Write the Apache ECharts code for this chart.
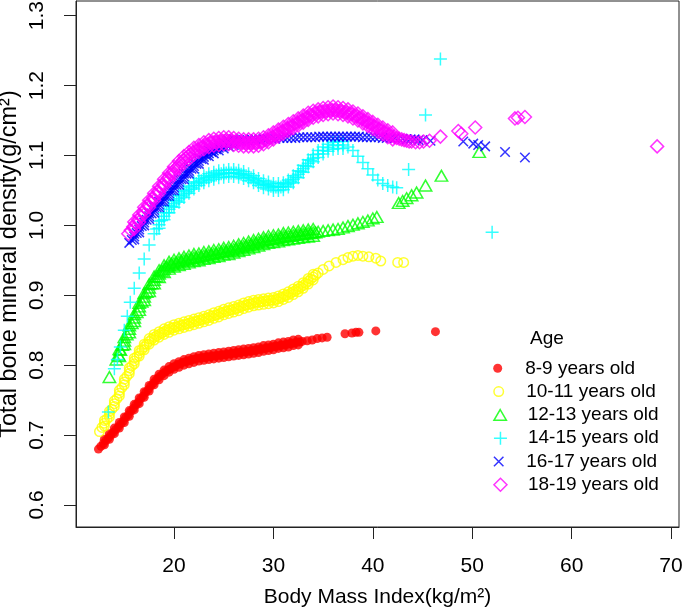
<!DOCTYPE html>
<html><head><meta charset="utf-8">
<script src="https://cdn.jsdelivr.net/npm/echarts@6/dist/echarts.min.js"></script>
<style>html,body{margin:0;padding:0;background:#fff}#c{width:682px;height:608px}</style>
</head><body><div id="c"></div>
<script>
const seriesNames = ['8-9 years old','10-11 years old','12-13 years old','14-15 years old','16-17 years old','18-19 years old'];
const xTicks = [20,30,40,50,60,70];
const yTicks = [0.6,0.7,0.8,0.9,1.0,1.1,1.2,1.3];

// [BMI, BMD] pairs: centre of each band plus its upper and lower edges
const age8_9 = [[12.4,.680],[12.65,.684],[12.9,.688],[13.15,.692],[13.4,.696],[13.65,.700],[13.9,.704],[14.15,.708],[14.4,.712],[14.65,.716],[14.9,.720],[15.15,.725],[15.4,.729],[15.65,.734],[15.9,.738],[16.15,.743],[16.4,.747],[16.65,.752],[16.9,.756],[17.15,.761],[17.4,.765],[17.65,.770],[17.9,.774],[18.15,.778],[18.4,.782],[18.65,.785],[18.9,.788],[19.15,.791],[19.4,.793],[19.65,.795],[19.9,.797],[20.15,.799],[20.4,.801],[20.65,.802],[20.9,.804],[21.15,.805],[21.4,.806],[21.65,.807],[21.9,.808],[22.15,.809],[22.4,.810],[22.65,.810],[22.9,.811],[23.15,.811],[23.4,.812],[23.65,.812],[23.9,.813],[24.15,.813],[24.4,.814],[24.65,.814],[24.9,.815],[25.15,.815],[25.4,.816],[25.65,.816],[25.9,.817],[26.15,.817],[26.4,.818],[26.65,.818],[26.9,.819],[27.15,.819],[27.4,.820],[27.65,.820],[27.9,.821],[28.15,.821],[28.4,.822],[28.65,.823],[28.9,.823],[29.15,.824],[29.4,.825],[29.65,.825],[29.9,.826],[30.15,.827],[30.4,.827],[30.65,.828],[30.9,.829],[31.15,.829],[31.4,.830],[31.65,.831],[31.9,.831],[32.15,.832],[32.4,.833],[32.65,.833],[32.9,.834],[33.4,.835],[33.9,.836],[34.4,.838],[34.9,.839],[35.4,.840],[37.2,.845],[37.9,.846],[38.3,.847],[38.6,.847],[40.3,.849],[46.3,.848]];
const age8_9_hi = [[13.0,.694],[13.5,.702],[14.0,.710],[14.5,.718],[15.0,.726],[15.5,.735],[16.0,.744],[16.5,.753],[17.0,.762],[17.5,.771],[18.0,.780],[18.5,.787],[19.0,.793],[19.5,.798],[20.0,.802],[20.5,.805],[21.0,.808],[21.5,.810],[22.0,.812],[22.5,.814],[23.0,.815],[23.5,.816],[24.0,.817],[24.5,.818],[25.0,.819],[25.5,.820],[26.0,.821],[26.5,.822],[27.0,.823],[27.5,.824],[28.0,.825],[28.5,.826],[29.0,.828],[29.5,.829],[30.0,.830],[30.5,.832],[31.0,.833],[31.5,.834],[32.0,.836],[32.5,.837]];
const age8_9_lo = [[13.0,.686],[13.5,.694],[14.0,.702],[14.5,.710],[15.0,.718],[15.5,.727],[16.0,.736],[16.5,.745],[17.0,.754],[17.5,.763],[18.0,.772],[18.5,.779],[19.0,.785],[19.5,.790],[20.0,.794],[20.5,.797],[21.0,.800],[21.5,.802],[22.0,.804],[22.5,.806],[23.0,.807],[23.5,.808],[24.0,.809],[24.5,.810],[25.0,.811],[25.5,.812],[26.0,.813],[26.5,.814],[27.0,.815],[27.5,.816],[28.0,.817],[28.5,.818],[29.0,.820],[29.5,.821],[30.0,.822],[30.5,.824],[31.0,.825],[31.5,.826],[32.0,.828],[32.5,.829]];

const age10_11 = [[12.5,.705],[12.75,.711],[13.0,.717],[13.25,.723],[13.5,.730],[13.75,.737],[14.0,.745],[14.25,.752],[14.5,.760],[14.75,.768],[15.0,.776],[15.25,.784],[15.5,.792],[15.75,.799],[16.0,.806],[16.25,.812],[16.5,.817],[16.75,.822],[17.0,.826],[17.25,.830],[17.5,.834],[17.75,.837],[18.0,.840],[18.25,.842],[18.5,.844],[18.75,.846],[19.0,.848],[19.25,.850],[19.5,.851],[19.75,.853],[20.0,.854],[20.25,.855],[20.5,.856],[20.75,.857],[21.0,.858],[21.25,.859],[21.5,.860],[21.75,.861],[22.0,.862],[22.25,.863],[22.5,.864],[22.75,.865],[23.0,.866],[23.25,.867],[23.5,.868],[23.75,.870],[24.0,.871],[24.25,.872],[24.5,.873],[24.75,.875],[25.0,.876],[25.25,.877],[25.5,.878],[25.75,.879],[26.0,.880],[26.25,.881],[26.5,.882],[26.75,.884],[27.0,.885],[27.25,.886],[27.5,.887],[27.75,.888],[28.0,.889],[28.25,.890],[28.5,.890],[28.75,.891],[29.0,.891],[29.25,.892],[29.5,.892],[29.75,.893],[30.0,.893],[30.25,.894],[30.5,.895],[30.75,.897],[31.0,.898],[31.25,.900],[31.5,.901],[31.75,.903],[32.0,.905],[32.25,.907],[32.5,.909],[32.75,.912],[33.0,.914],[33.25,.917],[33.5,.920],[33.75,.923],[34.0,.926],[34.25,.929],[34.5,.932],[35.0,.937],[35.6,.942],[36.3,.947],[37.0,.951],[37.5,.954],[38.0,.956],[38.5,.957],[39.0,.956],[39.6,.955],[40.3,.953],[40.8,.949],[42.5,.947],[43.1,.947]];
const age10_11_hi = [[13.0,.721],[13.5,.734],[14.0,.749],[14.5,.764],[15.0,.780],[15.5,.796],[16.0,.810],[16.5,.821],[17.0,.830],[17.5,.838],[18.0,.844],[18.5,.848],[19.0,.852],[19.5,.855],[20.0,.858],[20.5,.860],[21.0,.862],[21.5,.864],[22.0,.866],[22.5,.868],[23.0,.870],[23.5,.872],[24.0,.875],[24.5,.877],[25.0,.880],[25.5,.882],[26.0,.884],[26.5,.886],[27.0,.889],[27.5,.891],[28.0,.893],[28.5,.894],[29.0,.895],[29.5,.896],[30.0,.897],[30.5,.899],[31.0,.902],[31.5,.905],[32.0,.909],[32.5,.913],[33.0,.918],[33.5,.924],[34.0,.930]];
const age10_11_lo = [[13.0,.713],[13.5,.726],[14.0,.741],[14.5,.756],[15.0,.772],[15.5,.788],[16.0,.802],[16.5,.813],[17.0,.822],[17.5,.830],[18.0,.836],[18.5,.840],[19.0,.844],[19.5,.847],[20.0,.850],[20.5,.852],[21.0,.854],[21.5,.856],[22.0,.858],[22.5,.860],[23.0,.862],[23.5,.864],[24.0,.867],[24.5,.869],[25.0,.872],[25.5,.874],[26.0,.876],[26.5,.878],[27.0,.881],[27.5,.883],[28.0,.885],[28.5,.886],[29.0,.887],[29.5,.888],[30.0,.889],[30.5,.891],[31.0,.894],[31.5,.897],[32.0,.901],[32.5,.905],[33.0,.910],[33.5,.916],[34.0,.922]];

const age12_13 = [[13.5,.783],[14.2,.808],[14.4,.815],[14.6,.822],[14.8,.829],[15.0,.835],[15.25,.844],[15.5,.852],[15.75,.860],[16.0,.868],[16.25,.876],[16.5,.884],[16.75,.891],[17.0,.898],[17.25,.905],[17.5,.911],[17.75,.917],[18.0,.922],[18.25,.927],[18.5,.931],[18.75,.935],[19.0,.938],[19.25,.941],[19.5,.943],[19.75,.945],[20.0,.946],[20.25,.947],[20.5,.948],[20.75,.949],[21.0,.950],[21.25,.951],[21.5,.952],[21.75,.953],[22.0,.954],[22.25,.954],[22.5,.955],[22.75,.956],[23.0,.957],[23.25,.957],[23.5,.958],[23.75,.959],[24.0,.960],[24.25,.960],[24.5,.961],[24.75,.962],[25.0,.963],[25.25,.963],[25.5,.964],[25.75,.965],[26.0,.966],[26.25,.967],[26.5,.968],[26.75,.969],[27.0,.970],[27.25,.971],[27.5,.972],[27.75,.973],[28.0,.974],[28.25,.975],[28.5,.976],[28.75,.977],[29.0,.978],[29.25,.979],[29.5,.980],[29.75,.980],[30.0,.981],[30.25,.981],[30.5,.982],[30.75,.983],[31.0,.984],[31.25,.984],[31.5,.985],[31.75,.985],[32.0,.986],[32.25,.986],[32.5,.987],[32.75,.987],[33.0,.988],[33.25,.988],[33.5,.989],[33.75,.989],[34.0,.990],[34.25,.990],[34.5,.991],[35.0,.992],[35.5,.993],[36.0,.994],[36.5,.995],[37.0,.997],[37.5,.999],[38.0,1.001],[38.5,1.003],[39.0,1.005],[39.5,1.007],[40.0,1.010],[40.4,1.012],[42.6,1.032],[43.0,1.035],[43.4,1.039],[43.9,1.043],[44.4,1.047],[45.3,1.057],[46.9,1.071],[50.7,1.105]];
const age12_13_hi = [[14.5,.823],[15.0,.840],[15.5,.857],[16.0,.873],[16.5,.889],[17.0,.903],[17.5,.916],[18.0,.927],[18.5,.936],[19.0,.943],[19.5,.948],[20.0,.951],[20.5,.953],[21.0,.955],[21.5,.957],[22.0,.959],[22.5,.960],[23.0,.962],[23.5,.963],[24.0,.965],[24.5,.966],[25.0,.968],[25.5,.969],[26.0,.971],[26.5,.973],[27.0,.975],[27.5,.977],[28.0,.979],[28.5,.981],[29.0,.983],[29.5,.985],[30.0,.986],[30.5,.987],[31.0,.989],[31.5,.990],[32.0,.991],[32.5,.992],[33.0,.993],[33.5,.994],[34.0,.995]];
const age12_13_lo = [[14.5,.813],[15.0,.830],[15.5,.847],[16.0,.863],[16.5,.879],[17.0,.893],[17.5,.906],[18.0,.917],[18.5,.926],[19.0,.933],[19.5,.938],[20.0,.941],[20.5,.943],[21.0,.945],[21.5,.947],[22.0,.949],[22.5,.950],[23.0,.952],[23.5,.953],[24.0,.955],[24.5,.956],[25.0,.958],[25.5,.959],[26.0,.961],[26.5,.963],[27.0,.965],[27.5,.967],[28.0,.969],[28.5,.971],[29.0,.973],[29.5,.975],[30.0,.976],[30.5,.977],[31.0,.979],[31.5,.980],[32.0,.981],[32.5,.982],[33.0,.983],[33.5,.984],[34.0,.985]];

const age14_15 = [[13.4,.733],[14.0,.795],[14.3,.808],[14.6,.826],[15.0,.850],[15.3,.870],[15.6,.890],[16.0,.910],[16.5,.932],[17.0,.952],[17.5,.972],[18.0,.988],[18.25,.995],[18.5,1.001],[18.75,1.007],[19.0,1.013],[19.25,1.018],[19.5,1.023],[19.75,1.027],[20.0,1.031],[20.25,1.035],[20.5,1.038],[20.75,1.042],[21.0,1.045],[21.25,1.048],[21.5,1.051],[21.75,1.054],[22.0,1.057],[22.25,1.060],[22.5,1.062],[22.75,1.064],[23.0,1.066],[23.25,1.068],[23.5,1.069],[23.75,1.070],[24.0,1.071],[24.25,1.072],[24.5,1.073],[24.75,1.074],[25.0,1.074],[25.25,1.075],[25.5,1.075],[25.75,1.075],[26.0,1.075],[26.25,1.075],[26.5,1.074],[26.75,1.073],[27.0,1.072],[27.25,1.071],[27.5,1.069],[27.75,1.068],[28.0,1.066],[28.25,1.064],[28.5,1.062],[28.75,1.060],[29.0,1.059],[29.25,1.058],[29.5,1.057],[29.75,1.056],[30.0,1.055],[30.25,1.055],[30.5,1.055],[30.75,1.055],[31.0,1.056],[31.25,1.058],[31.5,1.060],[31.75,1.063],[32.0,1.066],[32.25,1.069],[32.5,1.073],[32.75,1.077],[33.0,1.081],[33.25,1.085],[33.5,1.089],[33.75,1.093],[34.0,1.096],[34.5,1.102],[35.0,1.107],[35.5,1.111],[36.0,1.114],[36.5,1.115],[37.0,1.115],[37.5,1.112],[38.0,1.107],[38.5,1.099],[39.0,1.090],[39.5,1.081],[40.0,1.072],[40.5,1.065],[41.0,1.060],[41.5,1.057],[42.0,1.055],[42.4,1.054],[43.6,1.080],[45.3,1.158],[46.8,1.238],[52.0,.990]];
const age14_15_hi = [[18.5,1.006],[19.0,1.018],[19.5,1.028],[20.0,1.036],[20.5,1.043],[21.0,1.050],[21.5,1.056],[22.0,1.062],[22.5,1.067],[23.0,1.071],[23.5,1.074],[24.0,1.076],[24.5,1.078],[25.0,1.079],[25.5,1.080],[26.0,1.080],[26.5,1.079],[27.0,1.077],[27.5,1.074],[28.0,1.071],[28.5,1.067],[29.0,1.064],[29.5,1.062],[30.0,1.060],[30.5,1.060],[31.0,1.061],[31.5,1.065],[32.0,1.071],[32.5,1.078],[33.0,1.086],[33.5,1.094],[34.0,1.101],[34.5,1.107],[35.0,1.112],[35.5,1.116],[36.0,1.119],[36.5,1.120],[37.0,1.120]];
const age14_15_lo = [[18.5,.996],[19.0,1.008],[19.5,1.018],[20.0,1.026],[20.5,1.033],[21.0,1.040],[21.5,1.046],[22.0,1.052],[22.5,1.057],[23.0,1.061],[23.5,1.064],[24.0,1.066],[24.5,1.068],[25.0,1.069],[25.5,1.070],[26.0,1.070],[26.5,1.069],[27.0,1.067],[27.5,1.064],[28.0,1.061],[28.5,1.057],[29.0,1.054],[29.5,1.052],[30.0,1.050],[30.5,1.050],[31.0,1.051],[31.5,1.055],[32.0,1.061],[32.5,1.068],[33.0,1.076],[33.5,1.084],[34.0,1.091],[34.5,1.097],[35.0,1.102],[35.5,1.106],[36.0,1.109],[36.5,1.110],[37.0,1.110]];

const age16_17 = [[15.5,.975],[15.75,.979],[16.0,.984],[16.25,.989],[16.5,.994],[16.75,.999],[17.0,1.004],[17.25,1.008],[17.5,1.013],[17.75,1.017],[18.0,1.022],[18.25,1.026],[18.5,1.030],[18.75,1.034],[19.0,1.038],[19.25,1.042],[19.5,1.046],[19.75,1.050],[20.0,1.054],[20.25,1.058],[20.5,1.062],[20.75,1.066],[21.0,1.070],[21.25,1.074],[21.5,1.078],[21.75,1.081],[22.0,1.085],[22.25,1.088],[22.5,1.092],[22.75,1.095],[23.0,1.098],[23.25,1.100],[23.5,1.103],[23.75,1.105],[24.0,1.107],[24.25,1.109],[24.5,1.111],[24.75,1.113],[25.0,1.114],[25.25,1.116],[25.5,1.117],[25.75,1.118],[26.0,1.119],[26.25,1.120],[26.5,1.121],[26.75,1.121],[27.0,1.122],[27.4,1.122],[27.8,1.123],[28.2,1.123],[28.6,1.123],[29.0,1.124],[29.4,1.124],[29.8,1.124],[30.2,1.124],[30.6,1.125],[31.0,1.125],[31.4,1.125],[31.8,1.125],[32.2,1.125],[32.6,1.126],[33.0,1.126],[33.4,1.126],[33.8,1.126],[34.2,1.126],[34.6,1.127],[35.0,1.127],[35.4,1.127],[35.8,1.127],[36.2,1.127],[36.6,1.127],[37.0,1.127],[37.4,1.127],[37.8,1.127],[38.2,1.127],[38.6,1.127],[39.0,1.126],[39.4,1.126],[39.8,1.126],[40.2,1.126],[40.6,1.126],[41.0,1.125],[41.4,1.125],[41.8,1.125],[42.2,1.125],[42.6,1.124],[43.0,1.124],[43.4,1.123],[43.8,1.123],[44.2,1.123],[44.6,1.122],[45.0,1.122],[45.8,1.121],[49.1,1.120],[50.1,1.117],[50.6,1.115],[51.3,1.113],[53.3,1.105],[55.3,1.097]];
const age16_17_hi = [[16.0,.988],[16.5,.998],[17.0,1.008],[17.5,1.017],[18.0,1.026],[18.5,1.034],[19.0,1.042],[19.5,1.050],[20.0,1.058],[20.5,1.066],[21.0,1.074],[21.5,1.082],[22.0,1.089],[22.5,1.096],[23.0,1.102],[23.5,1.107],[24.0,1.111],[24.5,1.115],[25.0,1.118],[25.5,1.121],[26.0,1.123]];
const age16_17_lo = [[16.0,.980],[16.5,.990],[17.0,1.000],[17.5,1.009],[18.0,1.018],[18.5,1.026],[19.0,1.034],[19.5,1.042],[20.0,1.050],[20.5,1.058],[21.0,1.066],[21.5,1.074],[22.0,1.081],[22.5,1.088],[23.0,1.094],[23.5,1.099],[24.0,1.103],[24.5,1.107],[25.0,1.110],[25.5,1.113],[26.0,1.115]];

const age18_19 = [[15.4,.988],[15.65,.993],[15.9,.998],[16.15,1.003],[16.4,1.008],[16.65,1.013],[16.9,1.019],[17.15,1.024],[17.4,1.029],[17.65,1.034],[17.9,1.039],[18.15,1.044],[18.4,1.049],[18.65,1.054],[18.9,1.059],[19.15,1.064],[19.4,1.068],[19.65,1.073],[19.9,1.077],[20.15,1.081],[20.4,1.085],[20.65,1.089],[20.9,1.093],[21.15,1.096],[21.4,1.099],[21.65,1.102],[21.9,1.105],[22.15,1.107],[22.4,1.109],[22.65,1.111],[22.9,1.113],[23.15,1.115],[23.4,1.116],[23.65,1.118],[23.9,1.119],[24.15,1.119],[24.4,1.120],[24.65,1.120],[24.9,1.121],[25.15,1.121],[25.4,1.121],[25.65,1.121],[25.9,1.120],[26.15,1.120],[26.4,1.119],[26.65,1.119],[26.9,1.118],[27.15,1.118],[27.4,1.118],[27.65,1.118],[27.9,1.118],[28.15,1.118],[28.4,1.119],[28.65,1.119],[28.9,1.120],[29.15,1.122],[29.4,1.123],[29.65,1.125],[29.9,1.127],[30.15,1.129],[30.4,1.131],[30.65,1.133],[30.9,1.135],[31.15,1.137],[31.4,1.139],[31.65,1.141],[31.9,1.143],[32.15,1.145],[32.4,1.147],[32.65,1.149],[32.9,1.151],[33.15,1.153],[33.4,1.155],[33.65,1.157],[33.9,1.158],[34.15,1.160],[34.4,1.161],[34.65,1.162],[34.9,1.163],[35.15,1.163],[35.4,1.164],[35.65,1.164],[35.9,1.165],[36.15,1.165],[36.4,1.164],[36.65,1.164],[36.9,1.163],[37.15,1.162],[37.4,1.161],[37.65,1.160],[37.9,1.159],[38.15,1.157],[38.4,1.156],[38.65,1.154],[38.9,1.152],[39.15,1.150],[39.4,1.148],[39.65,1.146],[39.9,1.144],[40.15,1.142],[40.4,1.140],[40.65,1.138],[40.9,1.136],[41.15,1.134],[41.4,1.132],[41.65,1.130],[41.9,1.128],[42.15,1.127],[42.4,1.125],[42.65,1.124],[42.9,1.123],[43.15,1.122],[43.4,1.121],[43.65,1.120],[43.9,1.120],[44.3,1.119],[44.7,1.119],[45.1,1.120],[45.7,1.121],[46.8,1.127],[48.6,1.135],[48.9,1.131],[50.3,1.140],[54.3,1.153],[54.6,1.154],[55.3,1.155],[68.6,1.113]];
const age18_19_hi = [[16.0,1.005],[16.5,1.015],[17.0,1.026],[17.5,1.036],[18.0,1.046],[18.5,1.056],[19.0,1.066],[19.5,1.075],[20.0,1.084],[20.5,1.092],[21.0,1.099],[21.5,1.105],[22.0,1.111],[22.5,1.115],[23.0,1.119],[23.5,1.122],[24.0,1.124],[24.5,1.125],[25.0,1.126],[25.5,1.126],[26.0,1.125],[26.5,1.124],[27.0,1.123],[27.5,1.123],[28.0,1.123],[28.5,1.124],[29.0,1.126],[29.5,1.129],[30.0,1.133],[30.5,1.137],[31.0,1.141],[31.5,1.145],[32.0,1.149],[32.5,1.153],[33.0,1.157],[33.5,1.161],[34.0,1.164],[34.5,1.166],[35.0,1.168],[35.5,1.169],[36.0,1.170],[36.5,1.169],[37.0,1.168],[37.5,1.166],[38.0,1.163],[38.5,1.160],[39.0,1.156],[39.5,1.152],[40.0,1.148],[40.5,1.144],[41.0,1.140],[41.5,1.136],[42.0,1.133]];
const age18_19_lo = [[16.0,.995],[16.5,1.005],[17.0,1.016],[17.5,1.026],[18.0,1.036],[18.5,1.046],[19.0,1.056],[19.5,1.065],[20.0,1.074],[20.5,1.082],[21.0,1.089],[21.5,1.095],[22.0,1.101],[22.5,1.105],[23.0,1.109],[23.5,1.112],[24.0,1.114],[24.5,1.115],[25.0,1.116],[25.5,1.116],[26.0,1.115],[26.5,1.114],[27.0,1.113],[27.5,1.113],[28.0,1.113],[28.5,1.114],[29.0,1.116],[29.5,1.119],[30.0,1.123],[30.5,1.127],[31.0,1.131],[31.5,1.135],[32.0,1.139],[32.5,1.143],[33.0,1.147],[33.5,1.151],[34.0,1.154],[34.5,1.156],[35.0,1.158],[35.5,1.159],[36.0,1.160],[36.5,1.159],[37.0,1.158],[37.5,1.156],[38.0,1.153],[38.5,1.150],[39.0,1.146],[39.5,1.142],[40.0,1.138],[40.5,1.134],[41.0,1.130],[41.5,1.126],[42.0,1.123]];

const allData = [
  age8_9.concat(age8_9_hi, age8_9_lo),
  age10_11.concat(age10_11_hi, age10_11_lo),
  age12_13.concat(age12_13_hi, age12_13_lo),
  age14_15.concat(age14_15_hi, age14_15_lo),
  age16_17.concat(age16_17_hi, age16_17_lo),
  age18_19.concat(age18_19_hi, age18_19_lo)
];
const colors = ['#FF0000','#FFFF00','#00FF00','#00FFFF','#0000FF','#FF00FF'];
const FONT = '"Liberation Sans", Arial, Helvetica, sans-serif';

const PLUS = 'path://M0,5L10,5M5,0L5,10';
const CROSS = 'path://M0,0L10,10M10,0L0,10';
const TRI = 'path://M5,0L10,8.66L0,8.66Z';
const DIAM = 'path://M5,0L10,5L5,10L0,5Z';
const symbols = ['circle','circle',TRI,PLUS,CROSS,DIAM];
const sizes = [9,9.5,[12.4,10.8],13,9.5,13];
const legendH = [9,9.5,10.8,13,9.5,13];
const filled = [true,false,false,false,false,false];
const LW = 1.5;

function styleFor(i){
  return filled[i] ? {color: colors[i], borderWidth: 0}
                   : {color: 'rgba(0,0,0,0)', borderColor: colors[i], borderWidth: LW};
}

const series = allData.map((d,i)=>({
  type:'scatter', name: seriesNames[i], data: d,
  symbol: symbols[i], symbolSize: sizes[i],
  itemStyle: styleFor(i), emphasis:{disabled:true}, silent:true, z: 2+i
}));

const legends = seriesNames.map((n,i)=>({
  data:[{name:n, icon: symbols[i], itemStyle: styleFor(i)}],
  left: 493.2, top: 356.8 + i*23.3, padding: 0,
  itemWidth: 45, itemHeight: legendH[i], symbolKeepAspect: true,
  selectedMode: false,
  textStyle:{fontSize:19, fontFamily: FONT, color:'#000', lineHeight:23}
}));

const axisLineStyle = {color:'#222', width:1};
const chart = echarts.init(document.getElementById('c'), null, {renderer:'canvas'});
chart.setOption({
  animation:false,
  backgroundColor:'#fff',
  title:{text:'Age', left:530, top:327.5, padding:0,
    textStyle:{fontSize:19, fontWeight:'normal', color:'#000', fontFamily:FONT, lineHeight:23}},
  legend: legends,
  grid:{left:76, right:3, top:1, bottom:81, containLabel:false, outerBoundsMode:'none',
    show:true, borderColor:'#222', borderWidth:1, backgroundColor:'transparent'},
  xAxis:{type:'value', min:10.14, max:70.8,
    name:'Body Mass Index(kg/m²)', nameLocation:'middle', nameGap:59.5, nameMoveOverlap:false,
    nameTextStyle:{fontSize:21, color:'#000', fontFamily:FONT},
    axisLine:{show:true, onZero:false, lineStyle:axisLineStyle},
    axisTick:{show:true, length:12, customValues:xTicks, lineStyle:axisLineStyle},
    axisLabel:{customValues:xTicks, margin:29, fontSize:21, color:'#000', fontFamily:FONT},
    splitLine:{show:false}},
  yAxis:{type:'value', min:0.5685, max:1.321,
    name:'Total bone mineral density(g/cm²)', nameLocation:'middle', nameGap:54, nameRotate:90, nameMoveOverlap:false,
    nameTextStyle:{fontSize:23.5, color:'#000', fontFamily:FONT},
    axisLine:{show:true, onZero:false, lineStyle:axisLineStyle},
    axisTick:{show:true, length:12, customValues:yTicks, lineStyle:axisLineStyle},
    axisLabel:{customValues:yTicks, margin:28, rotate:90, fontSize:21, color:'#000', fontFamily:FONT,
      formatter:(v)=>v.toFixed(1)},
    splitLine:{show:false}},
  series: series
});
</script></body></html>
